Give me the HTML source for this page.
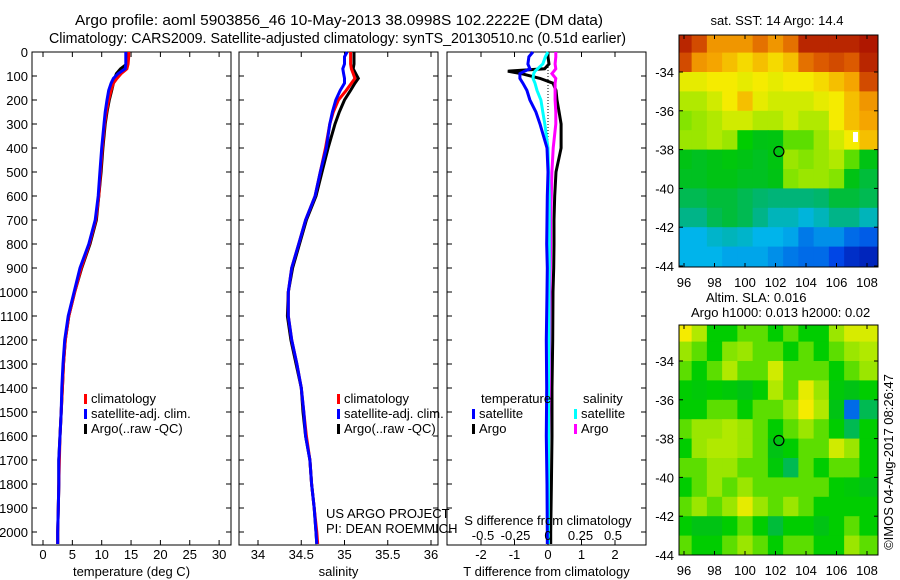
<!DOCTYPE html>
<html><head><meta charset="utf-8">
<style>
html,body{margin:0;padding:0;background:#fff;}
svg{display:block;font-family:"Liberation Sans",Arial,sans-serif;}
text{font-size:13px;fill:#000;}
.ttl{font-size:14.5px;}
</style></head>
<body>
<svg id="fig" width="900" height="580" viewBox="0 0 900 580" xmlns="http://www.w3.org/2000/svg">
<text class="ttl" x="75" y="25" textLength="528" lengthAdjust="spacingAndGlyphs">Argo profile: aoml 5903856_46 10-May-2013 38.0998S 102.2222E (DM data)</text>
<text class="ttl" x="49" y="43" textLength="577" lengthAdjust="spacingAndGlyphs">Climatology: CARS2009. Satellite-adjusted climatology: synTS_20130510.nc (0.51d earlier)</text>
<g id="g"></g>
</svg>
<script>
// ---- profile data ----
const depths = [0,20,50,70,90,110,130,160,200,250,300,400,500,600,700,800,900,1000,1100,1200,1300,1400,1500,1600,1700,1800,1900,2000,2050];
const tempClim = [14.6,14.6,14.5,14.3,13.3,12.6,12.0,11.6,11.2,10.8,10.5,10.1,9.8,9.5,9.0,7.9,6.5,5.4,4.4,3.8,3.5,3.3,3.1,2.9,2.8,2.7,2.6,2.5,2.5];
const tempSat = [14.1,14.1,14.1,14.0,12.8,12.0,11.6,11.2,10.9,10.6,10.4,10.0,9.7,9.4,8.9,7.8,6.3,5.3,4.3,3.7,3.4,3.2,3.1,2.9,2.7,2.7,2.6,2.5,2.5];
const tempArgo = [14.4,14.4,14.3,13.2,12.5,12.2,12.0,11.7,11.3,10.9,10.6,10.2,9.9,9.5,9.1,8.0,6.6,5.4,4.4,3.8,3.5,3.3,3.1,2.9,2.7,2.7,2.6,2.5,2.5];
const salClim = [35.07,35.07,35.07,35.08,35.1,35.12,35.08,35.02,34.93,34.87,34.83,34.78,34.72,34.66,34.55,34.47,34.39,34.35,34.35,34.39,34.45,34.5,34.53,34.56,34.6,34.62,34.65,34.68,34.69];
const salSat = [35.03,35.0,35.0,34.98,34.99,35.0,35.0,34.95,34.9,34.86,34.83,34.79,34.72,34.66,34.55,34.47,34.39,34.35,34.35,34.39,34.45,34.5,34.53,34.55,34.6,34.62,34.65,34.67,34.68];
const salArgo = [35.11,35.11,35.11,35.1,35.13,35.16,35.12,35.07,35.0,34.94,34.89,34.81,34.74,34.67,34.56,34.48,34.4,34.35,34.34,34.38,34.44,34.5,34.52,34.55,34.6,34.62,34.65,34.67,34.68];
const diffDepths = [0,20,50,70,80,90,110,130,160,200,250,300,400,500,600,700,800,900,1000,1200,1400,1600,1800,2000,2050];
const tDiffSat = [-0.45,-0.57,-0.6,-0.54,-0.7,-0.84,-0.84,-0.75,-0.63,-0.54,-0.36,-0.24,-0.03,0,-0.02,-0.03,-0.04,-0.02,-0.03,-0.05,-0.04,-0.05,-0.03,-0.02,-0.02];
const tDiffArgo = [0,0,0.03,-0.1,-1.2,-0.8,-0.24,0.15,0.24,0.27,0.33,0.39,0.39,0.24,0.2,0.18,0.18,0.17,0.15,0.14,0.12,0.12,0.1,0.08,0.08];
const sDiffSat = [0,-0.02,-0.04,-0.08,-0.1,-0.11,-0.115,-0.1,-0.085,-0.055,-0.04,-0.025,0,0.005,0.01,0.01,0.01,0.01,0.008,0.008,0.005,0.005,0.003,0.003,0.003];
const sDiffArgo = [0.06,0.06,0.055,0.06,0.045,0.03,0.06,0.055,0.055,0.055,0.06,0.06,0.04,0.03,0.025,0.02,0.02,0.018,0.015,0.012,0.01,0.005,0,0,0];
const depthTicks = [0,100,200,300,400,500,600,700,800,900,1000,1100,1200,1300,1400,1500,1600,1700,1800,1900,2000];
const tempTicks = [0,5,10,15,20,25,30];
const salTicks = [34,34.5,35,35.5,36];
const tDiffTicks = [-2,-1,0,1,2];
const sDiffTicks = [-0.5,-0.25,0,0.25,0.5];
// ---- map data (colour-scale 0..1), rows lat -32.5 .. -43.5, cols lon 96..108 ----
const mapLons = [96,97,98,99,100,101,102,103,104,105,106,107,108];
const mapLats = [-32.5,-33.5,-34.5,-35.5,-36.5,-37.5,-38.5,-39.5,-40.5,-41.5,-42.5,-43.5];
const sstGrid = [
[0.95,0.9,0.8,0.8,0.8,0.85,0.8,0.85,0.95,0.95,0.95,0.95,0.97],
[0.9,0.8,0.78,0.75,0.72,0.75,0.72,0.75,0.85,0.88,0.9,0.88,0.95],
[0.68,0.68,0.7,0.7,0.68,0.7,0.68,0.7,0.7,0.72,0.75,0.78,0.9],
[0.62,0.62,0.65,0.7,0.75,0.68,0.65,0.65,0.65,0.68,0.7,0.75,0.8],
[0.58,0.6,0.62,0.65,0.65,0.62,0.62,0.65,0.62,0.62,0.7,0.75,0.78],
[0.6,0.6,0.62,0.6,0.5,0.45,0.46,0.55,0.55,0.6,0.65,0.7,0.75],
[0.45,0.44,0.45,0.47,0.45,0.44,0.46,0.6,0.58,0.6,0.62,0.55,0.45],
[0.44,0.44,0.45,0.45,0.44,0.44,0.45,0.58,0.6,0.6,0.58,0.45,0.42],
[0.4,0.4,0.42,0.42,0.4,0.38,0.37,0.37,0.37,0.38,0.42,0.42,0.4],
[0.36,0.36,0.4,0.42,0.4,0.36,0.33,0.33,0.31,0.33,0.36,0.36,0.33],
[0.3,0.3,0.32,0.33,0.32,0.3,0.3,0.28,0.22,0.25,0.25,0.2,0.18],
[0.3,0.3,0.3,0.28,0.28,0.28,0.25,0.22,0.2,0.2,0.15,0.1,0.08]];
const slaGrid = [
[0.7,0.62,0.5,0.5,0.55,0.55,0.5,0.55,0.5,0.5,0.6,0.66,0.66],
[0.6,0.55,0.5,0.58,0.6,0.55,0.55,0.5,0.55,0.5,0.55,0.6,0.62],
[0.55,0.5,0.55,0.62,0.55,0.55,0.65,0.55,0.55,0.55,0.5,0.55,0.6],
[0.5,0.48,0.5,0.48,0.45,0.5,0.62,0.55,0.68,0.6,0.48,0.45,0.5],
[0.5,0.5,0.55,0.55,0.5,0.55,0.55,0.6,0.7,0.62,0.45,0.2,0.4],
[0.55,0.6,0.6,0.62,0.6,0.55,0.5,0.55,0.6,0.55,0.5,0.4,0.5],
[0.5,0.6,0.62,0.62,0.6,0.55,0.45,0.5,0.55,0.55,0.65,0.6,0.5],
[0.55,0.55,0.6,0.6,0.55,0.55,0.48,0.4,0.55,0.5,0.55,0.55,0.5],
[0.5,0.55,0.6,0.55,0.6,0.55,0.55,0.55,0.55,0.55,0.5,0.48,0.45],
[0.55,0.6,0.55,0.6,0.68,0.6,0.55,0.6,0.55,0.5,0.5,0.5,0.5],
[0.5,0.45,0.45,0.5,0.55,0.5,0.42,0.5,0.5,0.45,0.5,0.55,0.5],
[0.55,0.5,0.5,0.55,0.6,0.55,0.5,0.55,0.55,0.5,0.5,0.6,0.55]];
const lonTicks = [96,98,100,102,104,106,108];
const latTicks = [-34,-36,-38,-40,-42,-44];
const argoPos = [102.2222,-38.0998];

const NS='http://www.w3.org/2000/svg';
const G=document.getElementById('g');
function mk(tag,attrs,parent){const e=document.createElementNS(NS,tag);for(const k in attrs)e.setAttribute(k,attrs[k]);(parent||G).appendChild(e);return e;}
function txt(s,x,y,anchor,parent){const t=mk('text',{x:x,y:y,'text-anchor':anchor||'start'},parent);t.textContent=s;return t;}

const PT=52, PB=545;
const yD = d => 52 + d*0.24;
const panels = [
 {x0:32,x1:231,name:'temperature-panel',xs:v=>43+(v)*5.87,ticks:tempTicks,label:'temperature (deg C)'},
 {x0:239,x1:438,name:'salinity-panel',xs:v=>258+(v-34)*86.5,ticks:salTicks,label:'salinity'},
 {x0:447,x1:646,name:'difference-panel',xs:v=>548+v*33.5,ticks:tDiffTicks,label:'T difference from climatology'}
];
panels.forEach((p,i)=>{
  const g=mk('g',{});
  
  
  mk('rect',{x:p.x0,y:PT,width:p.x1-p.x0,height:PB-PT,fill:'#fff',stroke:'#000','stroke-width':1},g);
  depthTicks.forEach(d=>{const y=yD(d);
    mk('line',{x1:p.x0,x2:p.x0+5,y1:y,y2:y,stroke:'#000'},g);
    mk('line',{x1:p.x1-5,x2:p.x1,y1:y,y2:y,stroke:'#000'},g);
    if(i===0){const t=txt(String(d),28,y+5,'end',g);
      
      }
  });
  p.ticks.forEach(v=>{const x=p.xs(v);
    mk('line',{x1:x,x2:x,y1:PT,y2:PT+5,stroke:'#000'},g);
    mk('line',{x1:x,x2:x,y1:PB-5,y2:PB,stroke:'#000'},g);
    const t=txt(String(v),x,559,'middle',g);
    
    
  });
  const t=txt(p.label,(p.x0+p.x1)/2,576,'middle',g);
  
  
});
function line(xs,ys,scaleX,ydepth,color,name,w){
  const pts=[];for(let i=0;i<xs.length;i++){pts.push(scaleX(xs[i]).toFixed(1)+','+ydepth(ys[i]).toFixed(1));}
  const pl=mk('polyline',{points:pts.join(' '),fill:'none',stroke:color,'stroke-width':w||3,'stroke-linejoin':'miter'});
  
  
}
const xT=panels[0].xs, xS=panels[1].xs, xTD=panels[2].xs, xSD=v=>548+v*130;
line(tempArgo,depths,xT,yD,'#000','temp-argo-line');
line(tempClim,depths,xT,yD,'#f00','temp-clim-line');
line(tempSat,depths,xT,yD,'#00f','temp-sat-line');
line(salArgo,depths,xS,yD,'#000','sal-argo-line');
line(salClim,depths,xS,yD,'#f00','sal-clim-line');
line(salSat,depths,xS,yD,'#00f','sal-sat-line');
const zl=mk('line',{x1:548,x2:548,y1:52,y2:yD(700),stroke:'#000','stroke-dasharray':'1,2'});


line(tDiffArgo,diffDepths,xTD,yD,'#000','tdiff-argo-line');
line(sDiffArgo,diffDepths,xSD,yD,'#f0f','sdiff-argo-line');
line(sDiffSat,diffDepths,xSD,yD,'#0ff','sdiff-sat-line');
line(tDiffSat,diffDepths,xTD,yD,'#00f','tdiff-sat-line');
txt('S difference from climatology',548,525,'middle');
sDiffTicks.forEach(v=>{const t=txt(String(v),xSD(v),540,'middle');
  
  });
function legend(x,y,color,label){const g=mk('g',{});
  
  
  mk('rect',{x:x,y:y-9,width:3,height:10,fill:color},g);txt(label,x+7,y,'start',g);}
legend(84,403,'#f00','climatology');legend(84,418,'#00f','satellite-adj. clim.');legend(84,433,'#000','Argo(..raw -QC)');
legend(337,403,'#f00','climatology');legend(337,418,'#00f','satellite-adj. clim.');legend(337,433,'#000','Argo(..raw -QC)');
txt('temperature',481,403);
legend(472,418,'#00f','satellite');legend(472,433,'#000','Argo');
txt('salinity',583,403);
legend(574,418,'#0ff','satellite');legend(574,433,'#f0f','Argo');
txt('US ARGO PROJECT',326,518);
txt('PI: DEAN ROEMMICH',326,533);

// ---- maps ----
const stops=[[0,[0,0,140]],[0.15,[0,70,230]],[0.3,[0,180,235]],[0.37,[0,180,120]],[0.45,[0,195,20]],[0.5,[0,205,0]],[0.56,[110,225,0]],[0.64,[200,235,0]],[0.7,[245,235,0]],[0.78,[245,165,0]],[0.88,[220,90,0]],[1,[160,0,0]]];
function cmap(v){for(let i=1;i<stops.length;i++){if(v<=stops[i][0]){const a=stops[i-1],b=stops[i],f=(v-a[0])/(b[0]-a[0]);
  return 'rgb('+a[1].map((c,k)=>Math.round(c+(b[1][k]-c)*f)).join(',')+')';}}return 'rgb(160,0,0)';}
function drawMap(y0,y1,grid,name,lat34y){
  const x0=679,x1=878;
  const lx=l=>684+(l-96)*15.25, ly=la=>lat34y+(-34-la)*19.4;
  const g=mk('g',{});
  
  
  const cl=mk('clipPath',{id:name+'-clip'},g);mk('rect',{x:x0,y:y0,width:x1-x0,height:y1-y0},cl);
  const cg=mk('g',{'clip-path':'url(#'+name+'-clip)'},g);
  mapLats.forEach((la,r)=>{mapLons.forEach((lo,c)=>{
    const xa=lx(lo-0.5), ya=ly(la+0.5);
    const top = r===0? y0 : ya; const bot = r===mapLats.length-1? y1 : ly(la-0.5);
    const left = c===0? x0 : xa; const right = c===mapLons.length-1? x1 : lx(lo+0.5);
    const cell=mk('rect',{x:left,y:top,width:right-left+0.6,height:bot-top+0.6,fill:cmap(grid[r][c])},cg);
    
    
  });});
  mk('rect',{x:x0,y:y0,width:x1-x0,height:y1-y0,fill:'none',stroke:'#000'},g);
  lonTicks.forEach(l=>{const x=lx(l);mk('line',{x1:x,x2:x,y1:y0,y2:y0+4,stroke:'#000'},g);mk('line',{x1:x,x2:x,y1:y1-4,y2:y1,stroke:'#000'},g);
    const t=txt(String(l),x,y1+20,'middle',g);});
  latTicks.forEach(la=>{const y=ly(la);mk('line',{x1:x0,x2:x0+4,y1:y,y2:y,stroke:'#000'},g);mk('line',{x1:x1-4,x2:x1,y1:y,y2:y,stroke:'#000'},g);
    const t=txt(String(la),674,y+5,'end',g);});
  const c=mk('circle',{cx:lx(argoPos[0]),cy:ly(argoPos[1]),r:5,fill:'none',stroke:'#000','stroke-width':1.2},g);
  
  
}
drawMap(35,267,sstGrid,'sst-map',72);
drawMap(325,555,slaGrid,'sla-map',361);
const wp=mk('rect',{x:853,y:132,width:5,height:10,fill:'#fff'});


txt('sat. SST: 14 Argo: 14.4',777,25,'middle');
txt('Altim. SLA: 0.016',706,302);
txt('Argo h1000: 0.013 h2000: 0.02',691,317);
const cr=txt('©IMOS 04-Aug-2017 08:26:47',0,0,'middle');
cr.setAttribute('transform','translate(893,462) rotate(-90)');


</script>
</body></html>
